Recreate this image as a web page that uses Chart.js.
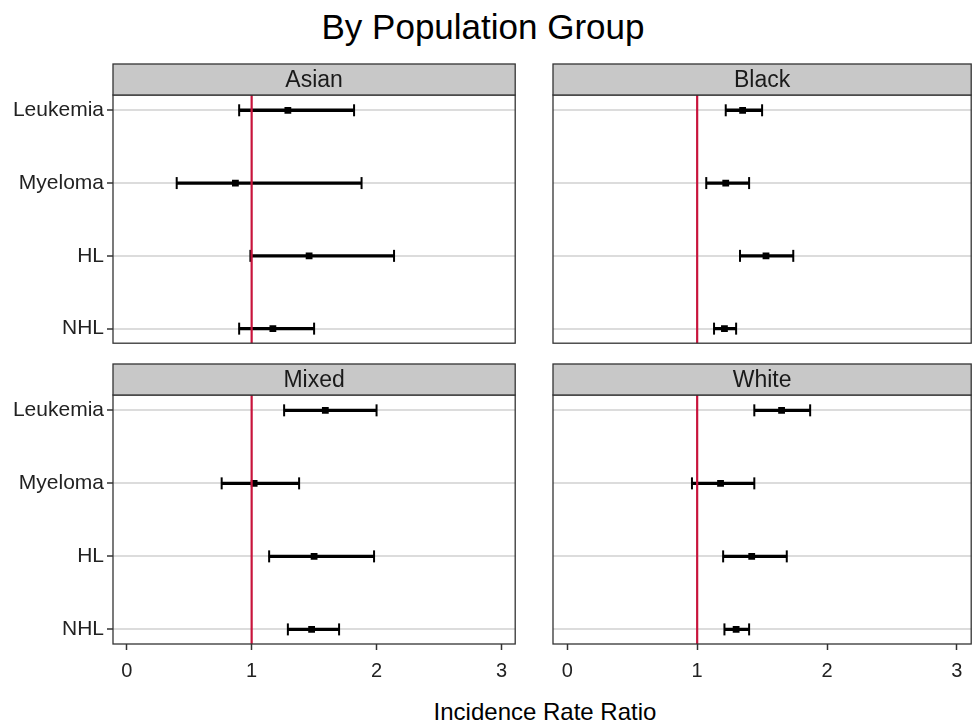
<!DOCTYPE html>
<html>
<head>
<meta charset="utf-8">
<title>By Population Group</title>
<script src="https://cdn.jsdelivr.net/npm/chart.js@4"></script>
<style>
  body { margin: 0; background: #fff; font-family: "Liberation Sans", Arial, sans-serif; }
  #page { position: relative; width: 976px; height: 726px; overflow: hidden; background: #fff; }
  .panel { position: absolute; }
  #title { position: absolute; left: 0; width: 966px; top: 9px; line-height: 35px; font-size: 35px; text-align: center; color: #000; }
  #xlabel { position: absolute; left: 130px; width: 830px; top: 700px; line-height: 24px; font-size: 24px; text-align: center; color: #000; }
</style>
</head>
<body>
<div id="page">
  <div id="title">By Population Group</div>
  <div class="panel" style="left:0;top:60px"><canvas id="asian" width="520" height="288"></canvas></div>
  <div class="panel" style="left:540px;top:60px"><canvas id="black" width="436" height="288"></canvas></div>
  <div class="panel" style="left:0;top:360px"><canvas id="mixed" width="520" height="330"></canvas></div>
  <div class="panel" style="left:540px;top:360px"><canvas id="white" width="436" height="330"></canvas></div>
  <div id="xlabel">Incidence Rate Ratio</div>
</div>
<script>
const categories = ['Leukemia', 'Myeloma', 'HL', 'NHL'];
const xTicks = [0, 1, 2, 3];
const refLine = 1;

// incidence rate ratio with lower / upper limits, per population group
const asianEst  = [1.29, 0.87, 1.46, 1.17];
const asianLow  = [0.90, 0.40, 0.99, 0.90];
const asianHigh = [1.82, 1.88, 2.14, 1.50];

const blackEst  = [1.35, 1.22, 1.53, 1.21];
const blackLow  = [1.22, 1.07, 1.33, 1.13];
const blackHigh = [1.50, 1.40, 1.74, 1.30];

const mixedEst  = [1.59, 1.02, 1.50, 1.48];
const mixedLow  = [1.26, 0.76, 1.14, 1.29];
const mixedHigh = [2.00, 1.38, 1.98, 1.70];

const whiteEst  = [1.65, 1.18, 1.42, 1.30];
const whiteLow  = [1.44, 0.96, 1.20, 1.21];
const whiteHigh = [1.87, 1.44, 1.69, 1.40];

const FONT = '"Liberation Sans", Arial, sans-serif';

// strip header, panel border, whisker caps and the reference line
const facetPlugin = {
    id: 'facet',
    afterDatasetsDraw(chart, args, opts) {
        const { ctx, chartArea, scales } = chart;
        const x = scales.x, y = scales.y;
        ctx.save();
        ctx.strokeStyle = '#000';
        ctx.lineWidth = 2;
        for (let i = 0; i < opts.low.length; i++) {
            const py = y.getPixelForValue(i + 1);
            [opts.low[i], opts.high[i]].forEach(v => {
                const px = x.getPixelForValue(v);
                ctx.beginPath();
                ctx.moveTo(px, py - 6);
                ctx.lineTo(px, py + 6);
                ctx.stroke();
            });
        }
        const rx = x.getPixelForValue(refLine);
        ctx.strokeStyle = '#C8143C';
        ctx.lineWidth = 2.2;
        ctx.beginPath();
        ctx.moveTo(rx, chartArea.top);
        ctx.lineTo(rx, chartArea.bottom);
        ctx.stroke();
        ctx.restore();
    },
    afterDraw(chart, args, opts) {
        const { ctx, chartArea } = chart;
        const w = chartArea.right - chartArea.left;
        const h = chartArea.bottom - chartArea.top;
        ctx.save();
        ctx.strokeStyle = '#333';
        ctx.lineWidth = 1.3;
        ctx.strokeRect(chartArea.left, chartArea.top, w, h);
        ctx.fillStyle = '#C8C8C8';
        ctx.fillRect(chartArea.left, chartArea.top - 31, w, 31);
        ctx.strokeRect(chartArea.left, chartArea.top - 31, w, 31);
        ctx.fillStyle = '#1A1A1A';
        ctx.font = '23px ' + FONT;
        ctx.textAlign = 'center';
        ctx.textBaseline = 'middle';
        ctx.fillText(opts.label, chartArea.left + w / 2, chartArea.top - 14.5);
        ctx.restore();
    }
};

function makePanel(id, label, est, low, high, showY, showX, padding) {
    const ctx = document.getElementById(id).getContext('2d');
    return new Chart(ctx, {
        type: 'scatter',
        data: {
            datasets: [{
                type: 'bar',
                indexAxis: 'y',
                data: categories.map((c, i) => ({ x: [low[i], high[i]], y: i + 1 })),
                backgroundColor: '#000',
                borderWidth: 0,
                barThickness: 2.7
            }, {
                type: 'scatter',
                data: categories.map((c, i) => ({ x: est[i], y: i + 1 })),
                pointStyle: 'rect',
                pointRadius: 4.8,
                backgroundColor: '#000',
                borderWidth: 0
            }]
        },
        options: {
            responsive: false,
            animation: false,
            layout: { padding: padding },
            plugins: {
                legend: { display: false },
                tooltip: { enabled: false },
                facet: { label: label, low: low, high: high }
            },
            scales: {
                x: {
                    type: 'linear',
                    display: showX,
                    offset: false,
                    min: -0.11,
                    max: 3.11,
                    afterBuildTicks: axis => { axis.ticks = xTicks.map(v => ({ value: v })); },
                    afterFit: axis => { if (showX) axis.height = 46; },
                    border: { display: false },
                    grid: { offset: false, drawOnChartArea: false, drawTicks: true, tickLength: 6, tickColor: '#333', tickWidth: 1.5 },
                    ticks: { color: '#222', padding: 9, font: { family: FONT, size: 20 } }
                },
                y: {
                    type: 'linear',
                    reverse: true,
                    offset: false,
                    min: 0.79,
                    max: 4.2,
                    afterBuildTicks: axis => { axis.ticks = categories.map((c, i) => ({ value: i + 1 })); },
                    afterFit: axis => {
                        axis.width = showY ? 113 : 0;
                        axis.paddingTop = 0;
                        axis.paddingBottom = 0;
                    },
                    border: { display: false },
                    grid: { offset: false, color: '#DCDCDC', lineWidth: 2, drawTicks: showY, tickLength: 6, tickColor: '#333', tickWidth: 1.5 },
                    ticks: {
                        display: showY,
                        color: '#222',
                        padding: 3,
                        font: { family: FONT, size: 21 },
                        callback: v => categories[v - 1]
                    }
                }
            }
        },
        plugins: [facetPlugin]
    });
}

makePanel('asian', 'Asian', asianEst, asianLow, asianHigh, true, false, { left: 0, right: 2, top: 35, bottom: 4 });
makePanel('black', 'Black', blackEst, blackLow, blackHigh, false, false, { left: 13, right: 4, top: 35, bottom: 4 });
makePanel('mixed', 'Mixed', mixedEst, mixedLow, mixedHigh, true, true, { left: 0, right: 2, top: 35, bottom: 0 });
makePanel('white', 'White', whiteEst, whiteLow, whiteHigh, false, true, { left: 13, right: 4, top: 35, bottom: 0 });
</script>
</body>
</html>
